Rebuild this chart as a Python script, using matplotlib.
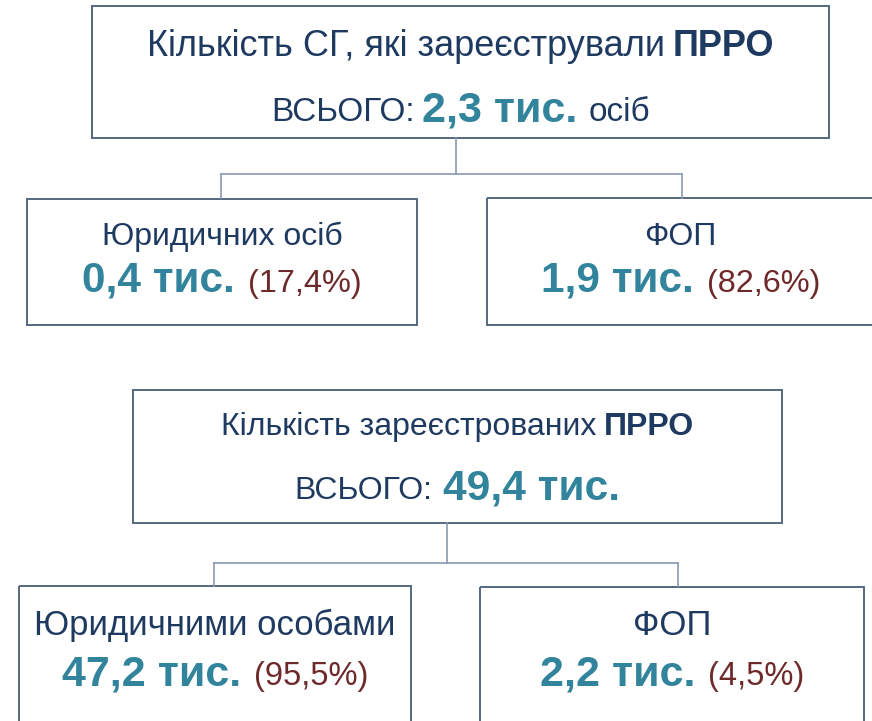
import matplotlib
matplotlib.use("Agg")
import matplotlib.pyplot as plt
from matplotlib.patches import Rectangle

# --- data ---
top_titles = ["Кількість СГ, які зареєстрували", "Кількість зареєстрованих"]
top_bold = ["ПРРО", "ПРРО"]
top_totals = ["2,3 тис.", "49,4 тис."]
top_suffix = ["осіб", ""]
child_labels = [["Юридичних осіб", "ФОП"], ["Юридичними особами", "ФОП"]]
child_values = [["0,4 тис.", "1,9 тис."], ["47,2 тис.", "2,2 тис."]]
child_shares = [["(17,4%)", "(82,6%)"], ["(95,5%)", "(4,5%)"]]

# --- styling ---
NAVY = "#1F3A60"
TEAL = "#31849B"
MAROON = "#6E2A2A"
BORDER = "#56687F"
LINK = "#8A9AB0"
FONT = "Liberation Sans"

W, H = 872, 721
fig = plt.figure(figsize=(W / 100, H / 100), dpi=100)
ax = fig.add_axes([0, 0, 1, 1])
ax.set_xlim(0, W)
ax.set_ylim(H, 0)
ax.axis("off")
fig.canvas.draw()
renderer = fig.canvas.get_renderer()


def draw_line(segs, cx, base, gaps=(10, 10)):
    # segs: list of (text, size, weight, color); centred on cx, drawn on baseline
    segs = [s for s in segs if s[0]]
    widths = []
    for txt, size, weight, color in segs:
        t = ax.text(0, 0, txt, fontsize=size, fontweight=weight, family=FONT)
        widths.append(t.get_window_extent(renderer).width)
        t.remove()
    total = sum(widths) + sum(gaps[:len(segs) - 1])
    x = cx - total / 2
    for k, ((txt, size, weight, color), w) in enumerate(zip(segs, widths)):
        ax.text(x, base, txt, fontsize=size, fontweight=weight, color=color,
                family=FONT, ha="left", va="baseline")
        if k < len(gaps):
            x += w + gaps[k]


def box(x0, y0, x1, y1):
    ax.add_patch(Rectangle((x0, y0), x1 - x0, y1 - y0, fill=False,
                           edgecolor=BORDER, linewidth=1.4, clip_on=False))


def link(xc, y_top, y_mid, xl, xr, y_bot):
    ax.plot([xc, xc], [y_top, y_mid], color=LINK, lw=1.2)
    ax.plot([xl, xr], [y_mid, y_mid], color=LINK, lw=1.2)
    ax.plot([xl, xl], [y_mid, y_bot], color=LINK, lw=1.2)
    ax.plot([xr, xr], [y_mid, y_bot], color=LINK, lw=1.2)


# layout of the two blocks (pixel boxes); some boxes run off the canvas edge
blocks = [
    dict(top=(92, 6, 829, 138), link=(456, 138, 174, 221, 682, 198),
         kids=[(27, 199, 417, 325), (487, 198, 874, 325)],
         top_base=(56, 121), kid_base=(245, 292),
         title=26, total_lab=24, total_val=31, suffix=24,
         kid_lab=23, kid_val=30.5, kid_share=23.4, gaps=(7, 11), kid_gap=13),
    dict(top=(133, 390, 782, 523), link=(447, 523, 563, 214, 678, 586),
         kids=[(19, 586, 411, 730), (480, 587, 864, 730)],
         top_base=(435, 499), kid_base=(635, 685),
         title=23, total_lab=23, total_val=30.6, suffix=23,
         kid_lab=25, kid_val=31, kid_share=23.5, gaps=(11, 11), kid_gap=13),
]

for i, b in enumerate(blocks):
    x0, y0, x1, y1 = b["top"]
    box(x0, y0, x1, y1)
    cx = (x0 + x1) / 2
    draw_line([(top_titles[i], b["title"], "normal", NAVY),
               (top_bold[i], b["title"], "bold", NAVY)], cx, b["top_base"][0],
              gaps=(8,))
    draw_line([("ВСЬОГО:", b["total_lab"], "normal", NAVY),
               (top_totals[i], b["total_val"], "bold", TEAL),
               (top_suffix[i], b["suffix"], "normal", NAVY)], cx, b["top_base"][1],
              gaps=b["gaps"])
    link(*b["link"])
    for j, (kx0, ky0, kx1, ky1) in enumerate(b["kids"]):
        box(kx0, ky0, kx1, ky1)
        kcx = (kx0 + kx1) / 2
        draw_line([(child_labels[i][j], b["kid_lab"], "normal", NAVY)], kcx, b["kid_base"][0])
        draw_line([(child_values[i][j], b["kid_val"], "bold", TEAL),
                   (child_shares[i][j], b["kid_share"], "normal", MAROON)],
                  kcx, b["kid_base"][1], gaps=(b["kid_gap"],))

fig.savefig("out.png", dpi=100)
